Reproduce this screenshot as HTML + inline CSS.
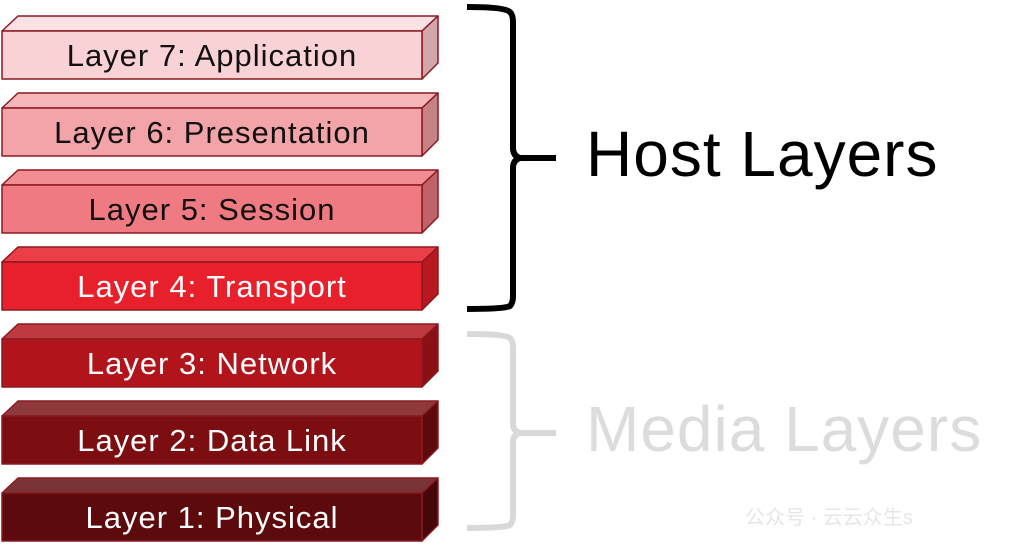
<!DOCTYPE html>
<html><head><meta charset="utf-8"><style>
html,body{margin:0;padding:0;background:#fff;width:1024px;height:556px;overflow:hidden}
svg text{font-family:"Liberation Sans",sans-serif}
</style></head><body>
<svg width="1024" height="556" viewBox="0 0 1024 556" xmlns="http://www.w3.org/2000/svg">
<g stroke-width="1.5" stroke-linejoin="round">
<g stroke="#8a1a20">
<polygon points="2,31 18,16 438,16 422,31" fill="#fbe1e3"/>
<polygon points="422,31 438,16 438,63 422,79" fill="#d4a5a9"/>
<rect x="2" y="31" width="420" height="48" fill="#f9d2d5"/>
<polygon points="2,108 18,93 438,93 422,108" fill="#f6b6ba"/>
<polygon points="422,108 438,93 438,140 422,156" fill="#c78286"/>
<rect x="2" y="108" width="420" height="48" fill="#f3a4a9"/>
<polygon points="2,185 18,170 438,170 422,185" fill="#f28d93"/>
<polygon points="422,185 438,170 438,217 422,233" fill="#c0626a"/>
<rect x="2" y="185" width="420" height="48" fill="#f07a82"/>
<polygon points="2,262 18,247 438,247 422,262" fill="#ec3e47"/>
<polygon points="422,262 438,247 438,294 422,310" fill="#b81820"/>
<rect x="2" y="262" width="420" height="48" fill="#e8202b"/>
<polygon points="2,339 18,324 438,324 422,339" fill="#bf3a40"/>
<polygon points="422,339 438,324 438,371 422,387" fill="#8a1016"/>
<rect x="2" y="339" width="420" height="48" fill="#b2141c"/>
<polygon points="2,416 18,401 438,401 422,416" fill="#8e3a3d"/>
<polygon points="422,416 438,401 438,448 422,464" fill="#5e0a0d"/>
<rect x="2" y="416" width="420" height="48" fill="#7c0e12"/>
<polygon points="2,493 18,478 438,478 422,493" fill="#7a3437"/>
<polygon points="422,493 438,478 438,525 422,541" fill="#45070a"/>
<rect x="2" y="493" width="420" height="48" fill="#5d0a0d"/>
</g>
</g>
<g font-size="31" text-anchor="middle" letter-spacing="1">
<text x="212" y="66" fill="#111">Layer 7: Application</text>
<text x="212" y="143" fill="#111">Layer 6: Presentation</text>
<text x="212" y="220" fill="#111">Layer 5: Session</text>
<text x="212" y="297" fill="#fff">Layer 4: Transport</text>
<text x="212" y="374" fill="#fff">Layer 3: Network</text>
<text x="212" y="451" fill="#fff">Layer 2: Data Link</text>
<text x="212" y="528" fill="#fff">Layer 1: Physical</text>
</g>
<path d="M467,7 Q505,7 510,12 Q513,15 513,22 L513,148 Q513,156 520,158 L556,158 M520,158 Q513,160 513,168 L513,296 Q513,303 510,306 Q505,309 467,309" fill="none" stroke="#000" stroke-width="6"/>
<path d="M467,334 Q505,334 510,338 Q513,341 513,348 L513,424 Q513,431 520,433 L556,433 M520,433 Q513,435 513,442 L513,515 Q513,522 510,525 Q505,528 467,528" fill="none" stroke="#d9d9d9" stroke-width="6"/>
<text x="586" y="176" font-size="64" fill="#000" letter-spacing="1">Host Layers</text>
<text x="586" y="451" font-size="64" fill="#dcdcdc" letter-spacing="1">Media Layers</text>
<text x="745" y="524" font-size="20" fill="#e6e6e6" font-family="'Liberation Sans','Noto Sans CJK SC',sans-serif">公众号 · 云云众生s</text>
</svg>
</body></html>
